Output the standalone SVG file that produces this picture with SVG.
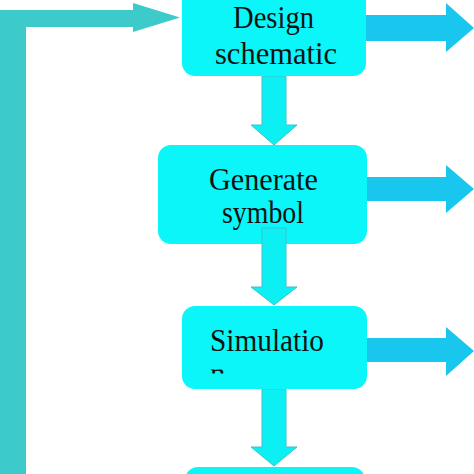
<svg xmlns="http://www.w3.org/2000/svg" width="474" height="474" viewBox="0 0 474 474">
<defs>
<style>
.box{fill:#0AF6F8;}
.lbl{font-family:"Liberation Serif","Times New Roman",serif;font-size:31px;fill:#111;}
.side{fill:#18C6EE;}
.down{fill:#0CF0F4;stroke:#3DC3CB;stroke-width:1;}
.loop{fill:#3CCACB;}
</style>
<clipPath id="clipN"><rect x="200" y="369.5" width="40" height="4"/></clipPath>
</defs>
<g id="connectors">
<path class="loop" d="M0,474 V10 H133 V3 L180,17.5 L133,32 V27 H26 V474 Z"/>
<path class="side" d="M364,15 H446 V3 L474,28 L446,52 V41 H364 Z"/>
<path class="side" d="M364,177 H446 V165 L474,189 L446,213 V201 H364 Z"/>
<path class="side" d="M364,338 H446 V327 L474,351 L446,376 V362 H364 Z"/>
<path class="down" d="M262,76 H286 V125 H297 L274,145 L251,125 H262 Z"/>
</g>
<g id="node-design">
<rect class="box" x="182" y="-20" width="184" height="96" rx="13"/>
<text class="lbl" x="233" y="28" textLength="81" lengthAdjust="spacingAndGlyphs">Design</text>
<text class="lbl" x="215" y="64" textLength="122" lengthAdjust="spacingAndGlyphs">schematic</text>
</g>
<g id="node-generate">
<rect class="box" x="158" y="145" width="209" height="99" rx="13"/>
<text class="lbl" x="209" y="190" textLength="109" lengthAdjust="spacingAndGlyphs">Generate</text>
<text class="lbl" x="222" y="223" textLength="82" lengthAdjust="spacingAndGlyphs">symbol</text>
</g>
<g id="connectors-2">
<path class="down" d="M262,228 H286 V287 H297 L274,305 L251,287 H262 Z"/>
<path class="down" d="M262,389 H286 V447 H297 L274,466 L251,447 H262 Z"/>
</g>
<g id="node-simulation">
<rect class="box" x="182" y="306" width="185" height="83" rx="13"/>
<text class="lbl" x="210" y="351" textLength="114" lengthAdjust="spacingAndGlyphs">Simulatio</text>
<g clip-path="url(#clipN)"><text class="lbl" x="210" y="384">n</text></g>
</g>
<g id="node-bottom">
<rect class="box" x="185" y="467" width="180" height="40" rx="13"/>
</g>
</svg>
